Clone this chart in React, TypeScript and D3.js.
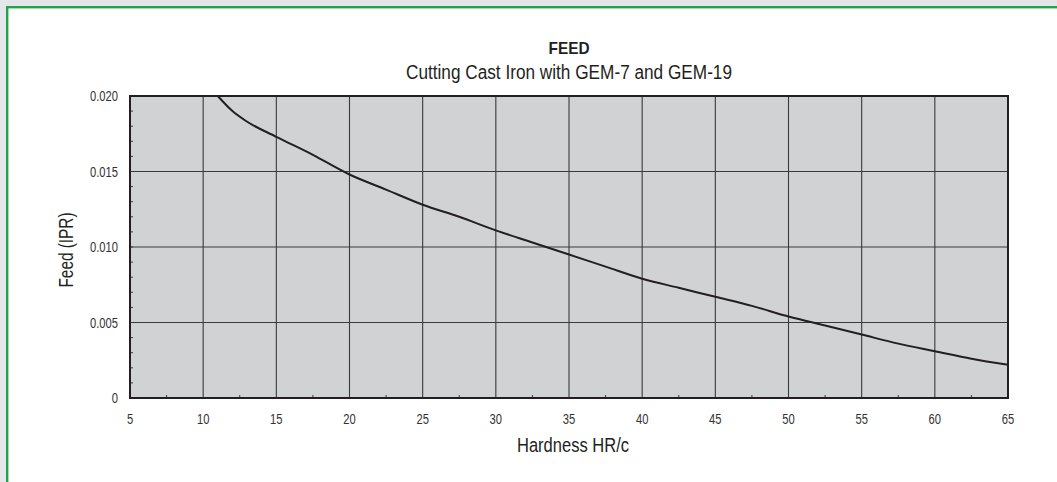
import { useEffect, useRef } from "react";
import * as d3 from "d3";

// Hardness HR/c vs feed (IPR)
const hardness = [11, 12, 12.9, 15, 17.5, 20, 22.5, 25, 27.5, 30, 32.5, 35, 37.5, 40, 42.5, 45, 47.5, 50, 52.5, 55, 57.5, 60, 62.5, 65];
const feed = [0.02, 0.019, 0.01836, 0.0173, 0.0161, 0.0148, 0.0138, 0.0128, 0.012, 0.0111, 0.0103, 0.0095, 0.0087, 0.0079, 0.0073, 0.0067, 0.0061, 0.0054, 0.0048, 0.0042, 0.0036, 0.0031, 0.0026, 0.0022];

const xTicks = [5, 10, 15, 20, 25, 30, 35, 40, 45, 50, 55, 60, 65];
const yTicks = [0, 0.005, 0.01, 0.015, 0.02];
const yTickLabels = ["0", "0.005", "0.010", "0.015", "0.020"];

const title = "FEED";
const subtitle = "Cutting Cast Iron with GEM-7 and GEM-19";
const xLabel = "Hardness HR/c";
const yLabel = "Feed (IPR)";

const FONT = "'Liberation Sans', Arial, sans-serif";

// squeeze text horizontally to mimic a condensed face
function condense(sel: d3.Selection<SVGTextElement, unknown, null, undefined>, k: number, target?: number) {
  const node = sel.node();
  if (!node) return;
  const len = target ?? node.getComputedTextLength() * k;
  sel.attr("textLength", len).attr("lengthAdjust", "spacingAndGlyphs");
}

export default function App() {
  const ref = useRef<SVGSVGElement | null>(null);

  useEffect(() => {
    if (!ref.current) return;
    const svg = d3.select(ref.current);
    svg.selectAll("*").remove();

    const width = 1057;
    const height = 482;
    const margin = { top: 96, right: 49, bottom: 84, left: 130 };

    // page background + green frame
    svg.append("rect").attr("width", width).attr("height", height).attr("fill", "#e4e6ea");
    svg.append("rect")
      .attr("x", 7.2).attr("y", 7.2)
      .attr("width", width + 50).attr("height", height + 50)
      .attr("fill", "#fff")
      .attr("stroke", "#1fa446")
      .attr("stroke-width", 2.4);

    const x = d3.scaleLinear().domain([5, 65]).range([margin.left, width - margin.right]);
    const y = d3.scaleLinear().domain([0, 0.02]).range([height - margin.bottom, margin.top]);

    // plot background
    svg.append("rect")
      .attr("x", x(5)).attr("y", y(0.02))
      .attr("width", x(65) - x(5)).attr("height", y(0) - y(0.02))
      .attr("fill", "#d1d2d4");

    // grid
    const g = svg.append("g").attr("stroke", "#3a3a3c").attr("stroke-width", 1.1);
    xTicks.slice(1, -1).forEach(t => {
      g.append("line").attr("x1", x(t)).attr("x2", x(t)).attr("y1", y(0)).attr("y2", y(0.02));
    });
    yTicks.slice(1, -1).forEach(t => {
      g.append("line").attr("x1", x(5)).attr("x2", x(65)).attr("y1", y(t)).attr("y2", y(t));
    });

    // minor ticks
    const m = svg.append("g").attr("stroke", "#3a3a3c").attr("stroke-width", 1);
    d3.range(0, 0.02, 0.001).forEach(t => {
      m.append("line").attr("x1", x(5)).attr("x2", x(5) + 3).attr("y1", y(t)).attr("y2", y(t));
    });
    d3.range(7.5, 65, 5).forEach(t => {
      m.append("line").attr("x1", x(t)).attr("x2", x(t)).attr("y1", y(0)).attr("y2", y(0) - 3);
    });

    // frame
    svg.append("rect")
      .attr("x", x(5)).attr("y", y(0.02))
      .attr("width", x(65) - x(5)).attr("height", y(0) - y(0.02))
      .attr("fill", "none")
      .attr("stroke", "#231f20")
      .attr("stroke-width", 2);

    // curve
    const data = hardness.map((h, i) => ({ h, f: feed[i] }));
    const line = d3.line<{ h: number; f: number }>()
      .x(d => x(d.h))
      .y(d => y(d.f))
      .curve(d3.curveMonotoneX);
    svg.append("path")
      .datum(data)
      .attr("fill", "none")
      .attr("stroke", "#231f20")
      .attr("stroke-width", 2)
      .attr("d", line);

    // tick labels
    const tl = svg.append("g").attr("font-family", FONT).attr("font-size", 14).attr("fill", "#333");
    xTicks.forEach(t => {
      const s = tl.append("text").attr("x", x(t)).attr("y", y(0) + 26).attr("text-anchor", "middle").text(String(t));
      condense(s, 0.8);
    });
    yTicks.forEach((t, i) => {
      const s = tl.append("text").attr("x", x(5) - 12).attr("y", y(t) + 5.2).attr("text-anchor", "end").text(yTickLabels[i]);
      condense(s, 0.8);
    });

    const cx = (x(5) + x(65)) / 2;

    // titles
    const t1 = svg.append("text")
      .attr("x", cx).attr("y", 54)
      .attr("text-anchor", "middle")
      .attr("font-family", FONT).attr("font-weight", "bold").attr("font-size", 17)
      .attr("fill", "#231f20")
      .text(title);
    condense(t1, 0.9, 41);
    const t2 = svg.append("text")
      .attr("x", cx).attr("y", 79)
      .attr("text-anchor", "middle")
      .attr("font-family", FONT).attr("font-size", 19.5)
      .attr("fill", "#231f20")
      .text(subtitle);
    condense(t2, 0.8, 326);

    const xl = svg.append("text")
      .attr("x", 573).attr("y", 452)
      .attr("text-anchor", "middle")
      .attr("font-family", FONT).attr("font-size", 20.5)
      .attr("fill", "#231f20")
      .text(xLabel);
    condense(xl, 0.8, 112);
    const yl = svg.append("text")
      .attr("transform", `translate(73,250) rotate(-90)`)
      .attr("text-anchor", "middle")
      .attr("font-family", FONT).attr("font-size", 20)
      .attr("fill", "#231f20")
      .text(yLabel);
    condense(yl, 0.8, 75);
  }, []);

  return (
    <svg
      ref={ref}
      width={1057}
      height={482}
      style={{ position: "absolute", left: 0, top: 0 }}
    />
  );
}
